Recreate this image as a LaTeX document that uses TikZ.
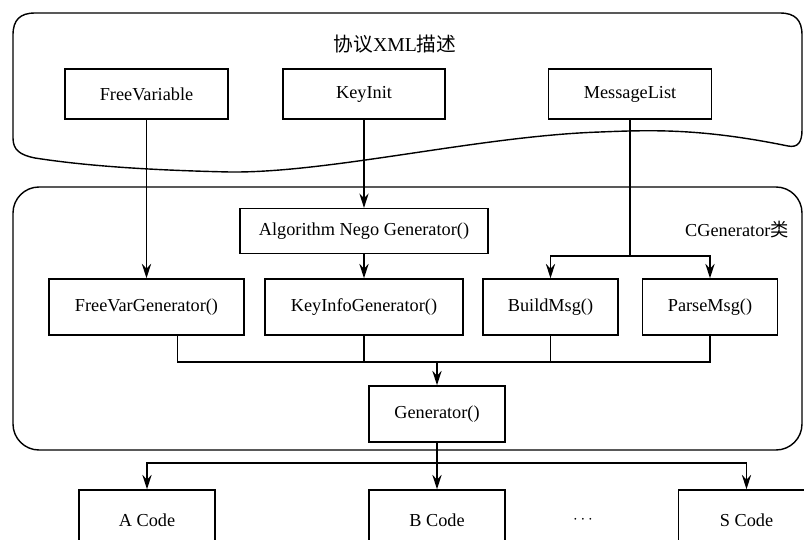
\documentclass[tikz,border=0pt]{standalone}
\usepackage{fontspec}
\setmainfont{Liberation Serif}
\newfontfamily\cjk{Noto Sans CJK SC}
\usepackage{tikz}
\usetikzlibrary{arrows.meta}

\begin{document}
\begin{tikzpicture}[x=0.025cm, y=-0.025cm, line width=1pt,
  font=\fontsize{13}{15}\selectfont,
  box/.style={draw, minimum height=1.25cm, inner sep=2pt},
  arr/.style={-{Stealth[length=3.6mm,width=2.3mm]}}]
\useasboundingbox (0,0) rectangle (804,540);
\clip (0,0) rectangle (804,540);

% protocol description
\draw (35,158) .. controls (20,155) and (13,150) .. (13,138) -- (13,35)
  .. controls (13,20) and (20,13) .. (35,13) -- (780,13)
  .. controls (795,13) and (802,20) .. (802,35) -- (802,130)
  .. controls (802,142) and (798,148) .. (788,146)
  .. controls (700,128) and (650,130) .. (600,132)
  .. controls (480,136) and (330,173) .. (230,172)
  .. controls (140,170) and (80,165) .. (35,158);
\node[font=\fontsize{14}{16}\selectfont] (title) at (395,44) {{\cjk 协议}XML{\cjk 描述}};
\node[box, minimum width=4.08cm] (fv) at (146.5,94) {FreeVariable};
\node[box, minimum width=4.05cm] (ki) at (364,94) {KeyInit};
\node[box, minimum width=4.08cm] (ml) at (630,94) {MessageList};

% generator class
\draw[rounded corners=0.65cm] (13,187) rectangle (802,450);
\node (cls) at (737,230) {CGenerator{\cjk 类}};
\node[box, minimum width=6.2cm, minimum height=1.12cm] (alg) at (364,231) {Algorithm Nego Generator()};
\node[box, minimum width=4.88cm, minimum height=1.4cm] (fvg) at (146.5,307) {FreeVarGenerator()};
\node[box, minimum width=4.95cm, minimum height=1.4cm] (kig) at (364,307) {KeyInfoGenerator()};
\node[box, minimum width=3.38cm, minimum height=1.4cm] (bm) at (550.5,307) {BuildMsg()};
\node[box, minimum width=3.38cm, minimum height=1.4cm] (pm) at (710,307) {ParseMsg()};
\node[box, minimum width=3.4cm, minimum height=1.4cm] (gen) at (437,414) {Generator()};

\coordinate (s1) at (630,256);
\coordinate (m) at (437,362);
\coordinate (s2) at (437,463);

\draw[arr, line width=1.3pt] (fv.south) -- (fvg.north);
\draw[arr] (ki.south) -- (alg.north);
\draw[arr] (alg.south) -- (kig.north);
\draw (ml.south) -- (s1);
\draw[arr] (s1) -| (bm.north);
\draw[arr] (s1) -| (pm.north);
\draw ([xshift=0.78cm]fvg.south) |- (m) -| (pm.south);
\draw (kig.south) -- (kig.south |- m);
\draw (bm.south) -- (bm.south |- m);
\draw[arr] (m) -- (gen.north);

% output code
\node[box, minimum width=3.4cm, minimum height=1.5cm] (ac) at (147,520) {A Code};
\node[box, minimum width=3.4cm, minimum height=1.5cm] (bc) at (437,520) {B Code};
\node[box, minimum width=3.4cm, minimum height=1.5cm] (sc) at (746.5,520) {S Code};
\node (dots) at (583,520) {$\cdots$};

\draw (gen.south) -- (s2);
\draw[arr] (s2) -- (bc.north);
\draw[arr] (s2) -| (ac.north);
\draw[arr] (s2) -| (sc.north);
\end{tikzpicture}
\end{document}
